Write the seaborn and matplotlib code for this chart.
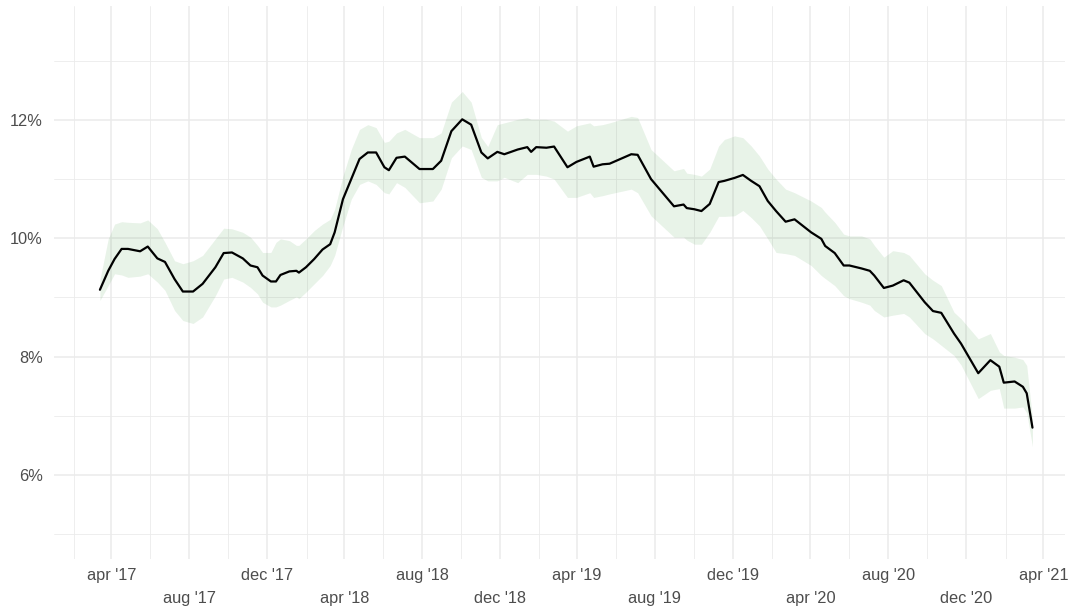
import numpy as np
import pandas as pd
import matplotlib
matplotlib.use('Agg')
import matplotlib.pyplot as plt
import seaborn as sns

# Values (percentage, weekly-ish breakpoints)
dates = [
    '2017-03-14', '2017-03-27', '2017-04-06', '2017-04-17', '2017-04-27', '2017-05-16',
    '2017-05-28', '2017-06-12', '2017-06-24', '2017-07-09', '2017-07-22', '2017-08-07',
    '2017-08-22', '2017-09-11', '2017-09-24', '2017-10-07', '2017-10-24', '2017-11-05',
    '2017-11-16', '2017-11-24', '2017-12-07', '2017-12-15', '2017-12-22', '2018-01-05',
    '2018-01-16', '2018-01-20', '2018-01-31', '2018-02-13', '2018-02-26', '2018-03-10',
    '2018-03-17', '2018-03-30', '2018-04-12', '2018-04-25', '2018-05-08', '2018-05-21',
    '2018-06-03', '2018-06-10', '2018-06-22', '2018-07-05', '2018-07-28', '2018-08-18',
    '2018-08-31', '2018-09-16', '2018-10-03', '2018-10-17', '2018-11-02', '2018-11-12',
    '2018-11-27', '2018-12-08', '2018-12-29', '2019-01-13', '2019-01-19', '2019-01-27',
    '2019-02-12', '2019-02-24', '2019-03-17', '2019-03-31', '2019-04-21', '2019-04-27',
    '2019-05-11', '2019-05-22', '2019-06-25', '2019-07-05', '2019-07-26', '2019-08-31',
    '2019-09-15', '2019-09-20', '2019-10-02', '2019-10-13', '2019-10-26', '2019-11-09',
    '2019-11-18', '2019-12-04', '2019-12-17', '2019-12-30', '2020-01-12', '2020-01-25',
    '2020-02-07', '2020-02-22', '2020-03-07', '2020-04-02', '2020-04-18', '2020-04-24',
    '2020-05-09', '2020-05-23', '2020-06-01', '2020-06-20', '2020-07-03', '2020-07-10',
    '2020-07-25', '2020-08-08', '2020-08-25', '2020-09-03', '2020-09-27', '2020-10-10',
    '2020-10-23', '2020-11-12', '2020-11-23', '2020-12-20', '2021-01-08', '2021-01-22',
    '2021-01-29', '2021-02-15', '2021-02-28', '2021-03-06', '2021-03-15',
]
rate = [
    9.13, 9.45, 9.65, 9.82, 9.82, 9.78,
    9.86, 9.66, 9.60, 9.31, 9.10, 9.10,
    9.23, 9.51, 9.75, 9.76, 9.66, 9.54,
    9.51, 9.37, 9.27, 9.27, 9.38, 9.44,
    9.45, 9.42, 9.51, 9.65, 9.81, 9.90,
    10.10, 10.66, 11.00, 11.34, 11.45, 11.45,
    11.20, 11.15, 11.36, 11.38, 11.17, 11.17,
    11.31, 11.81, 12.01, 11.92, 11.45, 11.35,
    11.46, 11.42, 11.50, 11.54, 11.46, 11.54,
    11.53, 11.55, 11.20, 11.29, 11.38, 11.21,
    11.25, 11.26, 11.42, 11.41, 11.00, 10.54,
    10.57, 10.51, 10.49, 10.46, 10.58, 10.95,
    10.97, 11.02, 11.07, 10.97, 10.88, 10.63,
    10.46, 10.28, 10.32, 10.10, 9.99, 9.87,
    9.75, 9.54, 9.54, 9.49, 9.45, 9.37,
    9.16, 9.20, 9.29, 9.25, 8.92, 8.77,
    8.74, 8.39, 8.22, 7.72, 7.94, 7.83,
    7.56, 7.58, 7.49, 7.38, 6.80,
]
upper = [
    9.30, 9.99, 10.24, 10.28, 10.27, 10.26,
    10.31, 10.16, 9.93, 9.62, 9.57, 9.62,
    9.71, 9.99, 10.17, 10.16, 10.10, 10.02,
    9.88, 9.76, 9.76, 9.93, 9.99, 9.96,
    9.88, 9.88, 9.99, 10.13, 10.24, 10.32,
    10.49, 11.05, 11.50, 11.84, 11.92, 11.87,
    11.62, 11.64, 11.78, 11.84, 11.70, 11.70,
    11.78, 12.30, 12.48, 12.30, 11.70, 11.55,
    11.92, 11.95, 12.01, 12.04, 12.01, 12.01,
    12.01, 11.98, 11.81, 11.90, 11.95, 11.90,
    11.92, 11.95, 12.06, 12.04, 11.50, 11.14,
    11.18, 11.10, 11.08, 11.05, 11.17, 11.56,
    11.67, 11.73, 11.70, 11.56, 11.39, 11.17,
    11.00, 10.83, 10.77, 10.63, 10.52, 10.44,
    10.27, 10.07, 10.04, 10.04, 9.99, 9.88,
    9.68, 9.79, 9.76, 9.71, 9.40, 9.29,
    9.20, 8.75, 8.64, 8.30, 8.39, 8.08,
    8.02, 7.99, 7.95, 7.85, 6.95,
]
lower = [
    8.95, 9.20, 9.40, 9.38, 9.34, 9.36,
    9.40, 9.26, 9.12, 8.78, 8.61, 8.56,
    8.67, 9.03, 9.31, 9.34, 9.26, 9.17,
    9.06, 8.92, 8.84, 8.84, 8.87, 8.95,
    9.01, 8.98, 9.09, 9.23, 9.37, 9.54,
    9.71, 10.21, 10.66, 10.91, 10.97, 10.91,
    10.77, 10.75, 10.94, 10.86, 10.60, 10.63,
    10.83, 11.36, 11.56, 11.50, 11.03, 10.97,
    10.97, 11.03, 10.94, 11.08, 11.08, 11.08,
    11.05, 11.00, 10.69, 10.69, 10.77, 10.69,
    10.72, 10.75, 10.83, 10.77, 10.38, 10.02,
    10.02, 9.97, 9.90, 9.90, 10.10, 10.37,
    10.37, 10.38, 10.47, 10.35, 10.21, 9.99,
    9.76, 9.74, 9.71, 9.54, 9.37, 9.32,
    9.20, 9.03, 8.98, 8.92, 8.87, 8.78,
    8.67, 8.70, 8.73, 8.67, 8.39, 8.30,
    8.19, 8.02, 7.86, 7.29, 7.43, 7.46,
    7.13, 7.13, 7.15, 7.05, 6.48,
]

y_ticks = [6, 8, 10, 12]
y_grid = [5, 6, 7, 8, 9, 10, 11, 12, 13]

df = pd.DataFrame({
    'date': pd.to_datetime(dates),
    'rate': rate,
    'lower': lower,
    'upper': upper,
})

sns.set_theme(style='white')
plt.rcParams['font.family'] = ['Liberation Sans', 'DejaVu Sans']

W, H = 1071, 610
fig = plt.figure(figsize=(W / 100, H / 100), dpi=100)
ax = fig.add_axes([54 / W, (H - 559.3) / H, (1065 - 54) / W, (559.3 - 6) / H])

grid_col = '#EBEBEB'
for d in pd.date_range('2017-02-01', '2021-04-01', freq='2MS'):
    major = d.month in (4, 8, 12)
    ax.axvline(d, color=grid_col, lw=1.1 if major else 0.6, zorder=0)
for v in y_grid:
    ax.axhline(v, color=grid_col, lw=1.1 if v % 2 == 0 else 0.6, zorder=0)

ax.fill_between(df['date'], df['lower'], df['upper'],
                color='forestgreen', alpha=0.10, linewidth=0, zorder=1)
sns.lineplot(data=df, x='date', y='rate', color='black', linewidth=1.6,
             ax=ax, zorder=2)

ax.set_xlim(pd.Timestamp('2017-01-01'), pd.Timestamp('2021-05-05'))
ax.set_ylim(4.575, 13.925)

# two staggered rows of date labels
top_row = pd.date_range('2017-04-01', '2021-04-01', freq='8MS')
bottom_row = pd.date_range('2017-08-01', '2020-12-01', freq='8MS')
fmt = lambda d: d.strftime("%b '%y").lower()
ax.set_xticks(top_row)
ax.set_xticklabels([fmt(d) for d in top_row])
ax.set_xticks(bottom_row, minor=True)
ax.set_xticklabels([fmt(d) for d in bottom_row], minor=True)

ax.set_yticks(y_ticks)
ax.set_yticklabels([f'{v}%' for v in y_ticks])

txt_col = '#4D4D4D'
ax.tick_params(axis='x', which='major', length=0, pad=6.5, labelsize=11.8, labelcolor=txt_col)
ax.tick_params(axis='x', which='minor', length=0, pad=22.8, labelsize=11.8, labelcolor=txt_col)
ax.tick_params(axis='y', length=0, pad=8.1, labelsize=11.8, labelcolor=txt_col)
ax.set_xlabel('')
ax.set_ylabel('')
ax.grid(False)
for s in ax.spines.values():
    s.set_visible(False)

fig.savefig('out.png', dpi=100)
